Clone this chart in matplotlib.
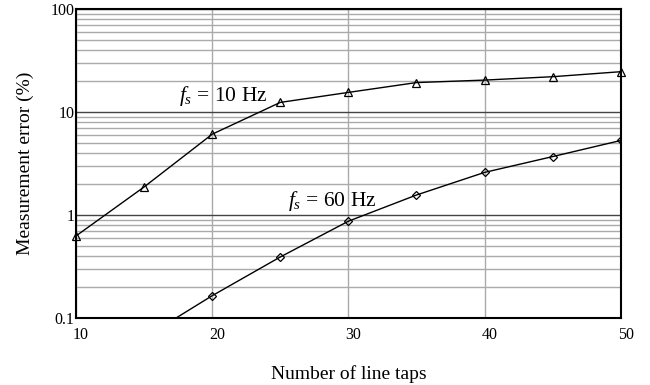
import numpy as np
import matplotlib.pyplot as plt
from matplotlib.ticker import FixedLocator, LogLocator, NullFormatter
from matplotlib.transforms import ScaledTranslation

plt.rcParams['font.family'] = ['Liberation Serif', 'DejaVu Serif']
plt.rcParams['mathtext.fontset'] = 'custom'
plt.rcParams['mathtext.rm'] = 'Liberation Serif'
plt.rcParams['mathtext.it'] = 'Liberation Serif:italic'

# values
taps = [10, 15, 20, 25, 30, 35, 40, 45, 50]
err_10hz = [0.63, 1.88, 6.1, 12.4, 15.5, 19.3, 20.4, 22.0, 24.6]
taps_60 = [15, 20, 25, 30, 35, 40, 45, 50]
err_60hz = [0.065, 0.166, 0.394, 0.875, 1.57, 2.6, 3.7, 5.3]

x_ticks = [10, 20, 30, 40, 50]
y_ticks = [0.1, 1, 10, 100]
y_tick_labels = ['0.1', '1', '10', '100']

fig = plt.figure(figsize=(6.5, 3.85), dpi=100)
ax = fig.add_axes([0.117, 0.173, 0.838, 0.804])

ax.set_yscale('log')
ax.set_xlim(10, 50)
ax.set_ylim(0.1, 100)

ax.plot(taps, err_10hz, color='black', lw=1, marker='^', ms=6,
        mfc='none', mec='black', mew=0.9, clip_on=False, zorder=5)
ax.plot(taps_60, err_60hz, color='black', lw=1, marker='D', ms=4.5,
        mfc='none', mec='black', mew=0.9, zorder=5)

ax.set_xticks(x_ticks)
ax.set_xticklabels([str(t) for t in x_ticks])
ax.yaxis.set_major_locator(FixedLocator(y_ticks))
ax.set_yticklabels(y_tick_labels)
ax.yaxis.set_minor_locator(LogLocator(base=10, subs=np.arange(2, 10)))
ax.yaxis.set_minor_formatter(NullFormatter())

ax.grid(True, which='major', axis='y', color='#444444', lw=1)
ax.grid(True, which='minor', axis='y', color='#aaaaaa', lw=1)
ax.grid(True, which='major', axis='x', color='#aaaaaa', lw=1)
ax.set_axisbelow(True)

ax.tick_params(which='both', length=0, labelsize=11.5)
ax.tick_params(axis='x', pad=6)
ax.tick_params(axis='y', pad=1)
# x tick labels sit a little right of their ticks in the original
shift = ScaledTranslation(5 / 100, 0, fig.dpi_scale_trans)
for lbl in ax.get_xticklabels():
    lbl.set_transform(lbl.get_transform() + shift)
for s in ax.spines.values():
    s.set_linewidth(1.5)
    s.set_color('black')

ax.set_xlabel('Number of line taps', fontsize=14, labelpad=16)
ax.set_ylabel('Measurement error (%)', fontsize=14, labelpad=12)

ax.text(20.8, 11.0, r'$f_s$ = 10 Hz', fontsize=15.5, ha='center', va='bottom')
ax.text(28.8, 1.05, r'$f_s$ = 60 Hz', fontsize=15.5, ha='center', va='bottom')

fig.savefig('out.png', dpi=100)
